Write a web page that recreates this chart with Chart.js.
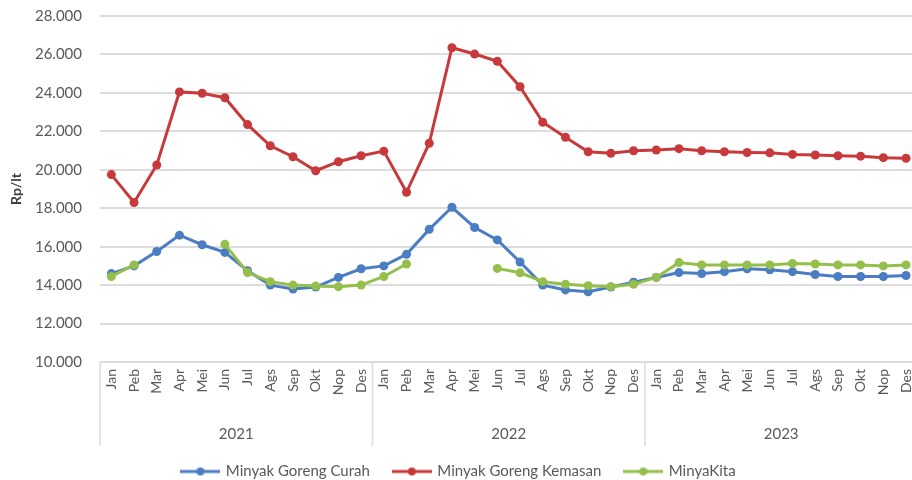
<!DOCTYPE html>
<html>
<head>
<meta charset="utf-8">
<script src="https://cdn.jsdelivr.net/npm/chart.js@4"></script>
<style>
  html, body { margin: 0; padding: 0; background: #fff; overflow: hidden; }
  #wrap { width: 912px; height: 480px; overflow: hidden; }
</style>
</head>
<body>
<div id="wrap"><canvas id="myChart" width="930" height="480"></canvas></div>
<script>
// month labels (repeated per year) and year groups
var months = ['Jan', 'Peb', 'Mar', 'Apr', 'Mei', 'Jun', 'Jul', 'Ags', 'Sep', 'Okt', 'Nop', 'Des'];
var years = ['2021', '2022', '2023'];
var yTicks = [10000, 12000, 14000, 16000, 18000, 20000, 22000, 24000, 26000, 28000];

// Rp per litre, Jan 2021 .. Des 2023
var curah = [
    14600, 15000, 15750, 16600, 16100, 15700, 14750, 14000, 13800, 13900, 14400, 14850,
    15000, 15600, 16900, 18050, 17000, 16350, 15200, 14000, 13750, 13650, 13900, 14150,
    14400, 14650, 14600, 14700, 14850, 14800, 14700, 14550, 14450, 14450, 14450, 14500
];
var kemasan = [
    19750, 18300, 20250, 24050, 23980, 23750, 22350, 21250, 20680, 19950, 20420, 20730,
    20970, 18830, 21380, 26350, 26020, 25640, 24320, 22470, 21690, 20940, 20860, 20990,
    21030, 21100, 20990, 20940, 20900, 20880, 20800, 20770, 20730, 20710, 20630, 20600
];
var minyakita = [
    14450, 15050, null, null, null, 16120, 14650, 14180, 14000, 13950, 13920, 14000,
    14450, 15100, null, null, null, 14870, 14640, 14180, 14040, 13970, 13920, 14040,
    14400, 15170, 15050, 15050, 15050, 15050, 15130, 15100, 15050, 15050, 15000, 15050
];

var BLUE = '#4a7dc4', RED = '#c8393b', GREEN = '#94bf4b';
var GRID = '#dcdcdc', TEXT = '#595959';
var FONT = 'Lato, "Open Sans", sans-serif';

var labels = [];
years.forEach(function () { labels = labels.concat(months); });

// little "line with dot" swatch for the legend
function swatch(color) {
    var c = document.createElement('canvas');
    c.width = 40; c.height = 10;
    var g = c.getContext('2d');
    g.strokeStyle = color; g.lineWidth = 3;
    g.beginPath(); g.moveTo(0, 5); g.lineTo(40, 5); g.stroke();
    g.fillStyle = color;
    g.beginPath(); g.arc(20, 5, 4, 0, Math.PI * 2); g.fill();
    return c;
}

function ds(label, data, color) {
    return {
        label: label,
        data: data,
        borderColor: color,
        backgroundColor: color,
        borderWidth: 3,
        pointRadius: 4.5,
        pointHoverRadius: 4.5,
        pointBorderWidth: 0,
        tension: 0,
        spanGaps: false
    };
}

// year separators below the plot
var yearLines = {
    id: 'yearLines',
    afterDraw: function (chart) {
        var x = chart.scales.x, ctx = chart.ctx;
        var step = x.getPixelForValue(1) - x.getPixelForValue(0);
        ctx.save();
        ctx.strokeStyle = GRID;
        ctx.lineWidth = 1.5;
        for (var i = 0; i <= labels.length; i += months.length) {
            var px = x.getPixelForValue(0) - step / 2 + i * step;
            ctx.beginPath();
            ctx.moveTo(px, chart.chartArea.bottom);
            ctx.lineTo(px, 446);
            ctx.stroke();
        }
        ctx.restore();
    }
};

var ctx = document.getElementById('myChart').getContext('2d');
var myChart = new Chart(ctx, {
    type: 'line',
    data: {
        labels: labels,
        // drawn last = on top, so green goes first; legend is reversed
        datasets: [
            ds('MinyaKita', minyakita, GREEN),
            ds('Minyak Goreng Kemasan', kemasan, RED),
            ds('Minyak Goreng Curah', curah, BLUE)
        ]
    },
    options: {
        responsive: false,
        animation: false,
        devicePixelRatio: 1,
        layout: { padding: { top: 16, right: 12, bottom: -9, left: 0 } },
        plugins: {
            tooltip: { enabled: false },
            legend: {
                position: 'bottom',
                reverse: true,
                labels: {
                    usePointStyle: true,
                    pointStyleWidth: 36,
                    padding: 24,
                    color: TEXT,
                    font: { family: FONT, size: 15 },
                    generateLabels: function (chart) {
                        var items = Chart.defaults.plugins.legend.labels.generateLabels(chart);
                        items.forEach(function (it) { it.pointStyle = swatch(it.strokeStyle); });
                        return items;
                    }
                }
            }
        },
        scales: {
            x: {
                type: 'category',
                offset: true,
                grid: { display: false, drawTicks: false },
                border: { display: false },
                ticks: {
                    autoSkip: false,
                    maxRotation: 90,
                    minRotation: 90,
                    padding: 7,
                    color: TEXT,
                    font: { family: FONT, size: 14 }
                },
                afterFit: function (s) { s.height = 45; }
            },
            x2: {
                type: 'category',
                labels: years,
                position: 'bottom',
                offset: true,
                grid: { display: false, drawTicks: false },
                border: { display: false },
                ticks: {
                    padding: 18,
                    color: TEXT,
                    font: { family: FONT, size: 15 }
                },
                afterFit: function (s) { s.height = 33; }
            },
            y: {
                min: yTicks[0],
                max: yTicks[yTicks.length - 1],
                afterBuildTicks: function (s) {
                    s.ticks = yTicks.map(function (v) { return { value: v }; });
                },
                // invisible tick marks give the gap between labels and plot
                grid: { color: GRID, lineWidth: 2, drawTicks: true, tickLength: 15, tickColor: 'rgba(0,0,0,0)' },
                border: { display: false },
                ticks: {
                    padding: 3,
                    color: TEXT,
                    font: { family: FONT, size: 15 },
                    callback: function (v) { return v.toLocaleString('de-DE', { minimumFractionDigits: 3 }).replace(',000', '') ; }
                },
                title: {
                    display: true,
                    text: 'Rp/lt',
                    color: '#404040',
                    padding: { top: 8, bottom: 0 },
                    font: { family: FONT, size: 14, weight: 'bold' }
                },
                afterFit: function (s) { s.width = 100; }
            }
        }
    },
    plugins: [yearLines]
});
</script>
</body>
</html>
